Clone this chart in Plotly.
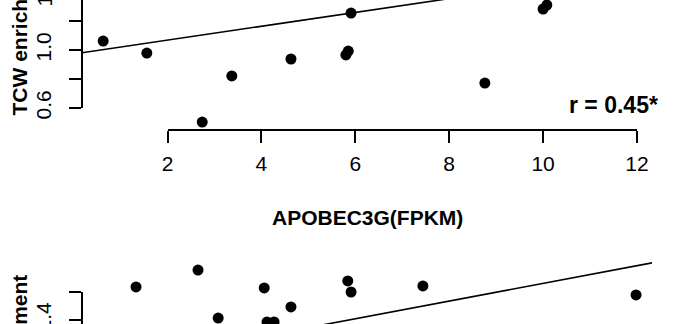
import plotly.graph_objects as go

W, H = 678, 324
FONT = "Liberation Sans, Arial, Helvetica, sans-serif"

# ---- data ----
top_x = [0.63, 1.56, 2.74, 3.37, 4.63, 5.80, 5.85, 5.87, 5.91, 8.76, 10.00, 10.08]
top_y = [1.062, 0.979, 0.503, 0.821, 0.938, 0.966, 0.993, 1.352, 1.255, 0.772, 1.283, 1.310]
top_fit_intercept = 0.973
top_fit_slope = 0.0477

bot_x = [1.33, 2.65, 2.76, 3.08, 4.06, 4.12, 4.27, 4.63, 5.61, 5.84, 5.91, 7.44, 11.98]
bot_y = [1.636, 1.757, 1.329, 1.414, 1.629, 1.386, 1.386, 1.493, 1.329, 1.679, 1.600, 1.643, 1.579]
bot_fit_intercept = 1.0295
bot_fit_slope = 0.0632

x_ticks = [2, 4, 6, 8, 10, 12]
x_ticklabels = ["2", "4", "6", "8", "10", "12"]
top_y_ticks = [0.6, 0.8, 1.0, 1.2]
top_y_ticklabels = ["0.6", "", "1.0", ""]
bot_y_ticks = [1.4, 1.6]
bot_y_ticklabels = ["1.4", ""]

x_title = "APOBEC3G(FPKM)"
y_title = "TCW enrichment"
r_label = "r = 0.45*"

# ---- layout helpers (pixel -> paper) ----
def px(xp):
    return xp / W

def py(yp):
    return (H - yp) / H

XR = [0.179, 12.32]
fig = go.Figure()

# top panel
fig.add_trace(go.Scatter(x=top_x, y=top_y, mode="markers", xaxis="x", yaxis="y",
                         marker=dict(color="black", size=11), cliponaxis=False,
                         showlegend=False, hoverinfo="skip"))
fig.add_trace(go.Scatter(x=XR, y=[top_fit_intercept + top_fit_slope * v for v in XR],
                         mode="lines", xaxis="x", yaxis="y",
                         line=dict(color="black", width=1.6), showlegend=False, hoverinfo="skip"))
# bottom panel
fig.add_trace(go.Scatter(x=bot_x, y=bot_y, mode="markers", xaxis="x2", yaxis="y2",
                         marker=dict(color="black", size=11), cliponaxis=False,
                         showlegend=False, hoverinfo="skip"))
fig.add_trace(go.Scatter(x=XR, y=[bot_fit_intercept + bot_fit_slope * v for v in XR],
                         mode="lines", xaxis="x2", yaxis="y2",
                         line=dict(color="black", width=1.6), showlegend=False, hoverinfo="skip"))
# dummy traces to make display axes exist
for xa, ya in [("x3", "y"), ("x", "y3"), ("x2", "y4")]:
    fig.add_trace(go.Scatter(x=[None], y=[None], xaxis=xa, yaxis=ya, showlegend=False,
                             hoverinfo="skip"))

hidden = dict(visible=False, showgrid=False, zeroline=False, automargin=False)
axstyle = dict(showline=True, linecolor="black", linewidth=1.8, ticks="outside",
               ticklen=12, tickwidth=1.8, tickcolor="black", showgrid=False, zeroline=False,
               automargin=False, ticklabeloverflow="allow",
               tickfont=dict(family=FONT, size=21, color="black"))

fig.update_layout(
    width=W, height=H, margin=dict(l=0, r=0, t=0, b=0, pad=0, autoexpand=False),
    paper_bgcolor="white", plot_bgcolor="rgba(0,0,0,0)",
    xaxis=dict(domain=[px(82), px(652)], range=XR, anchor="y", **hidden),
    yaxis=dict(domain=[py(130), 1], range=[0.4483, 1.345], anchor="x", **hidden),
    xaxis2=dict(domain=[px(82), px(652)], range=XR, anchor="y2", **hidden),
    yaxis2=dict(domain=[0, py(250)], range=[1.3714, 1.9], anchor="x2", **hidden),
    xaxis3=dict(domain=[px(167.5), px(637)], range=[2, 12], anchor="free", position=py(130),
                tickvals=x_ticks, ticktext=x_ticklabels, ticklabelstandoff=3, **axstyle),
    yaxis3=dict(domain=[py(108), 1], range=[0.6, 1.345], anchor="free", position=px(82),
                tickvals=top_y_ticks, ticktext=top_y_ticklabels, tickangle=-90,
                ticklabelstandoff=10, **axstyle),
    yaxis4=dict(domain=[0, py(292)], range=[1.3714, 1.6], anchor="free", position=px(82),
                tickvals=bot_y_ticks, ticktext=bot_y_ticklabels, tickangle=-90,
                ticklabelstandoff=10, **axstyle),
)

bold = dict(family=FONT, size=21, color="black", weight="bold")
ann = dict(xref="paper", yref="paper", showarrow=False, xanchor="center", yanchor="middle")
fig.add_annotation(text=r_label, x=px(613), y=py(105), font=dict(family=FONT, size=23,
                   color="black", weight="bold"), **ann)
fig.add_annotation(text=x_title, x=px(367), y=py(217), font=bold, **ann)
fig.add_annotation(text=y_title, x=px(19), y=py(32.5), textangle=-90, font=bold, **ann)
fig.add_annotation(text=y_title, x=px(19), y=py(358.5), textangle=-90, font=bold, **ann)
fig.add_annotation(text="1.4", x=px(44.5), y=py(-8), textangle=-90,
                   font=dict(family=FONT, size=21, color="black"), **ann)

fig.write_html("out.html")
